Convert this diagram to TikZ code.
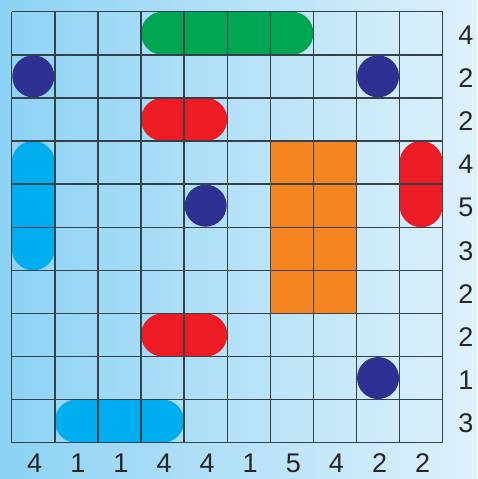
\documentclass[tikz,border=0pt]{standalone}
\usepackage{fontspec}
\setmainfont{Liberation Sans}
\definecolor{bgL}{HTML}{8CD2F4}
\definecolor{bgR}{HTML}{DEF1FB}
\definecolor{gridc}{HTML}{36424A}
\definecolor{pgreen}{HTML}{00A651}
\definecolor{pnavy}{HTML}{2E3192}
\definecolor{pred}{HTML}{ED1C24}
\definecolor{pcyan}{HTML}{00AEEF}
\definecolor{porange}{HTML}{F58521}
\begin{document}
\begin{tikzpicture}[x=1pt,y=-1pt,
  gridline/.style={draw=gridc,line width=1.4pt},
  capsule/.style={rounded corners=21.5pt},
  lab/.style={font=\fontsize{27}{27}\selectfont,text=black!85,inner sep=0pt}]
\useasboundingbox (0,0) rectangle (477,479);
\shade[left color=bgL,right color=bgR] (0,0) rectangle (477,479);
\def\g{11.7}
\def\c{43.1}
% pieces
\fill[pgreen,capsule] ({\g+3*\c},{\g}) rectangle ({\g+7*\c},{\g+\c});
\fill[pred,capsule] ({\g+3*\c},{\g+2*\c}) rectangle ({\g+5*\c},{\g+3*\c});
\fill[pred,capsule] ({\g+3*\c},{\g+7*\c}) rectangle ({\g+5*\c},{\g+8*\c});
\fill[pred,capsule] ({\g+9*\c},{\g+3*\c}) rectangle ({\g+10*\c},{\g+5*\c});
\fill[pcyan,capsule] ({\g},{\g+3*\c}) rectangle ({\g+\c},{\g+6*\c});
\fill[pcyan,capsule] ({\g+1*\c},{\g+9*\c}) rectangle ({\g+4*\c},{\g+10*\c});
\fill[porange] ({\g+6*\c},{\g+3*\c}) rectangle ({\g+8*\c},{\g+7*\c});
\foreach \cc/\rr in {0/1,8/1,4/4,8/8}
  \fill[pnavy] ({\g+(\cc+0.5)*\c},{\g+(\rr+0.5)*\c}) circle (21);
% grid
\foreach \i in {0,...,10}{
  \draw[gridline] ({\g+\i*\c},{\g}) -- ({\g+\i*\c},{\g+10*\c});
  \draw[gridline] ({\g},{\g+\i*\c}) -- ({\g+10*\c},{\g+\i*\c});
}
% labels
\foreach \v [count=\k from 0] in {4,2,2,4,5,3,2,2,1,3}
  \node[lab] (r\k) at (466,{\g+(\k+0.5)*\c+2}) {\v};
\foreach \v [count=\k from 0] in {4,1,1,4,4,1,5,4,2,2}
  \node[lab] (b\k) at ({\g+(\k+0.5)*\c+1.5},463.5) {\v};
\end{tikzpicture}
\end{document}
